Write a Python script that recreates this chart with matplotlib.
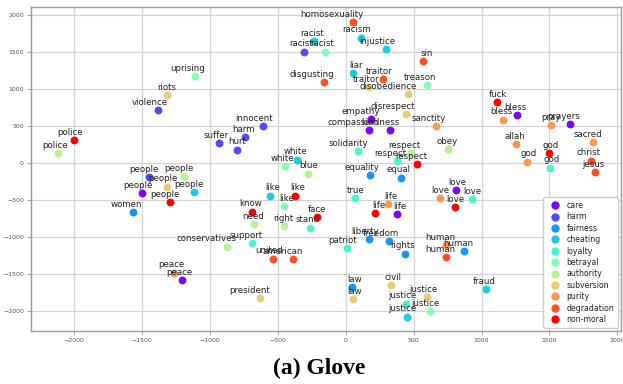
import matplotlib
matplotlib.use("Agg")
import matplotlib.pyplot as plt
from matplotlib.lines import Line2D
import numpy as np

categories = ["care", "harm", "fairness", "cheating", "loyalty", "betrayal",
              "authority", "subversion", "purity", "degradation", "non-moral"]

words = [
    # care
    "empathy", "compassion", "kindness", "people", "peace", "life", "love", "bless", "prayers",
    # harm
    "violence", "suffer", "harm", "hurt", "innocent", "racist", "people",
    # fairness
    "women", "equality", "equal", "liberty", "freedom", "rights", "law", "human",
    # cheating
    "racist", "racism", "injustice", "liar", "white", "people", "like", "justice", "fraud",
    # loyalty
    "solidarity", "respect", "god", "true", "stand", "support", "patriot", "justice", "love",
    # betrayal
    "uprising", "racist", "treason", "white", "like", "justice",
    # authority
    "police", "people", "conservatives", "blue", "need", "right", "respect", "obey",
    # subversion
    "riots", "people", "traitor", "disobedience", "disrespect", "president", "law", "civil", "justice",
    # purity
    "peace", "sanctity", "bless", "pray", "allah", "god", "sacred", "life", "love", "human",
    # degradation
    "homosexuality", "traitor", "disgusting", "sin", "christ", "jesus", "united", "american", "human",
    # non-moral
    "police", "fuck", "god", "respect", "people", "like", "know", "face", "life", "love",
]

xs = [
    184, 173, 323, -1497, -1203, 376, 815, 1260, 1651,
    -1385, -937, -743, -804, -611, -310, -1451,
    -1568, 178, 405, 173, 322, 439, 46, 870,
    -231, 116, 295, 57, -356, -1120, -555, 450, 1032,
    90, 376, 1504, 68, -261, -687, 9, 447, 929,
    -1108, -156, 596, -450, -454, 621,
    -2119, -1189, -874, -275, -677, -457, 481, 755,
    -1319, -1313, 173, 455, 442, -633, 50, 336, 601,
    -1262, 667, 1155, 1510, 1253, 1336, 1818, 312, 694, 736,
    57, 273, -160, 567, 1803, 1833, -533, -386, 738,
    -2004, 1115, 1500, 527, -1297, -371, -687, -214, 219, 804,
]

ys = [
    597, 450, 450, -401, -1577, -689, -365, 653, 523,
    720, 274, 351, 185, 500, 1504, -185,
    -662, -159, -196, -1029, -1056, -1219, -1675, -1189,
    1648, 1693, 1540, 1212, 50, -392, -436, -2071, -1698,
    159, 27, -58, -473, -869, -1077, -1144, -1895, -482,
    1175, 1504, 1054, -36, -581, -1995,
    139, -172, -1128, -142, -820, -847, 138, 193,
    919, -315, 1023, 929, 666, -1820, -1837, -1648, -1810,
    -1477, 496, 590, 513, 253, 23, 280, -554, -473, -1108,
    1905, 1139, 1098, 1382, 36, -122, -1288, -1297, -1270,
    315, 824, 135, -14, -527, -436, -653, -725, -671, -594,
]

cat_counts = [9, 7, 8, 9, 9, 6, 8, 9, 10, 9, 10]
cats = [c for c, n in zip(categories, cat_counts) for _ in range(n)]

colors = plt.cm.rainbow(np.linspace(0, 1, len(categories)))
cmap = dict(zip(categories, colors))

fig = plt.figure(figsize=(6.23, 3.84), dpi=100)
ax = fig.add_axes([0.0493, 0.139, 0.947, 0.842])

for c in categories:
    idx = [i for i, k in enumerate(cats) if k == c]
    ax.scatter([xs[i] for i in idx], [ys[i] for i in idx], color=cmap[c], s=32,
               linewidths=0, zorder=2)

for w, x, y in zip(words, xs, ys):
    ax.annotate(w, xy=(x, y), xytext=(7, 2.4), textcoords="offset points",
                ha="right", va="bottom", fontsize=6.2, color="#222222", zorder=3)

ax.set_xlim(-2320, 2025)
ax.set_ylim(-2260, 2105)
ax.set_xticks([-2000, -1500, -1000, -500, 0, 500, 1000, 1500, 2000])
ax.set_yticks([-2000, -1500, -1000, -500, 0, 500, 1000, 1500, 2000])
ax.grid(True, color="#d4d4d4", linewidth=0.9, zorder=0)
ax.set_axisbelow(True)
for s in ax.spines.values():
    s.set_color("#9a9a9a")
    s.set_linewidth(1.0)
ax.tick_params(labelsize=4.5, labelcolor="#555555", color="#9a9a9a", length=3, width=0.6, pad=2)

handles = [Line2D([], [], marker="o", ls="", color=cmap[c], markersize=6.0, markeredgewidth=0)
           for c in categories]
leg = ax.legend(handles, categories, loc="lower right", fontsize=5.6, labelspacing=0.31,
                handletextpad=0.5, borderpad=0.5, borderaxespad=0.35, framealpha=1,
                edgecolor="#cccccc")
for t in leg.get_texts():
    t.set_color("#222222")

fig.text(0.512, 0.04, "(a) Glove", ha="center", va="center", fontsize=17,
         fontweight="bold", family="Liberation Serif")

fig.savefig("out.png", dpi=100)
